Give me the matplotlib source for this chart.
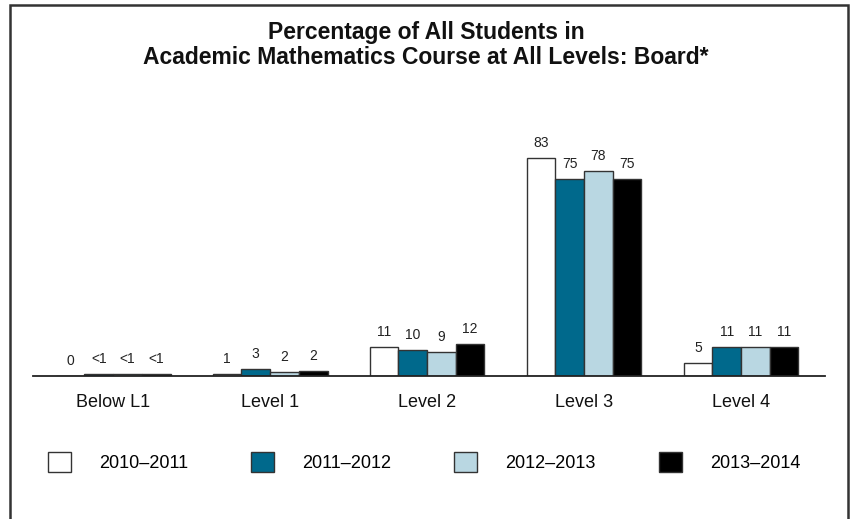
import matplotlib
matplotlib.use("Agg")
import matplotlib.pyplot as plt
from matplotlib.patches import Rectangle, Patch
import numpy as np

plt.rcParams['font.family'] = ['Liberation Sans', 'DejaVu Sans']

categories = ["Below L1", "Level 1", "Level 2", "Level 3", "Level 4"]
series_names = ["2010\u20132011", "2011\u20132012", "2012\u20132013", "2013\u20132014"]
# bar heights
v_2010 = [0.0, 0.7, 11, 83, 5]
v_2011 = [0.7, 2.8, 9.8, 75, 11]
v_2012 = [0.7, 1.5, 9.2, 78, 11]
v_2013 = [0.7, 1.9, 12, 75, 11]
# printed labels
l_2010 = ["0", "1", "11", "83", "5"]
l_2011 = ["<1", "3", "10", "75", "11"]
l_2012 = ["<1", "2", "9", "78", "11"]
l_2013 = ["<1", "2", "12", "75", "11"]

values = [v_2010, v_2011, v_2012, v_2013]
labels = [l_2010, l_2011, l_2012, l_2013]
colors = ["#FFFFFF", "#00698C", "#B9D7E2", "#000000"]
edge = "#333333"

fig = plt.figure(figsize=(8.52, 5.19), dpi=100)
W, H = 852, 519
ax = fig.add_axes([33 / W, (H - 376) / H, (825 - 33) / W, 263 / H])

x = np.arange(len(categories))
w = 0.183
for i, (vals, labs, c) in enumerate(zip(values, labels, colors)):
    pos = x + (i - 1.5) * w
    ax.bar(pos, vals, width=w, color=c, edgecolor=edge, linewidth=1.0, zorder=2)
    for p, v, t in zip(pos, vals, labs):
        ax.annotate(t, (p, v), xytext=(0, 11), textcoords='offset pixels',
                    ha='center', va='baseline', fontsize=10, color='#222222')

ax.set_xlim(-0.51, 4.535)
ax.set_ylim(0, 100)
for s in ['top', 'right', 'left']:
    ax.spines[s].set_visible(False)
ax.spines['bottom'].set_color('#222222')
ax.spines['bottom'].set_linewidth(1.3)
ax.spines['bottom'].set_zorder(3)
ax.set_yticks([])
ax.set_xticks(x)
ax.set_xticklabels(categories, fontsize=13, color='#111111')
ax.tick_params(axis='x', length=0, pad=13)

fig.text(0.5, 1 - 32 / H, "Percentage of All Students in", ha='center', va='center',
         fontsize=16.5, fontweight='bold', color='#111111')
fig.text(0.5, 1 - 58 / H, "Academic Mathematics Course at All Levels: Board*", ha='center',
         va='center', fontsize=16.5, fontweight='bold', color='#111111')

handles = [Patch(facecolor=c, edgecolor=edge, linewidth=1.0) for c in colors]
fig.legend(handles, series_names, loc='center', bbox_to_anchor=(424 / W, 1 - 462 / H),
           ncol=4, frameon=False, fontsize=13, handlelength=1.28, handleheight=1.33,
           handletextpad=1.55, columnspacing=3.5)

fig.patches.append(Rectangle((10 / W, -0.05), (848 - 10) / W, 1.05 - 5 / H,
                             transform=fig.transFigure, fill=False,
                             edgecolor='#333333', linewidth=1.8))

fig.savefig("out.png", dpi=100)
